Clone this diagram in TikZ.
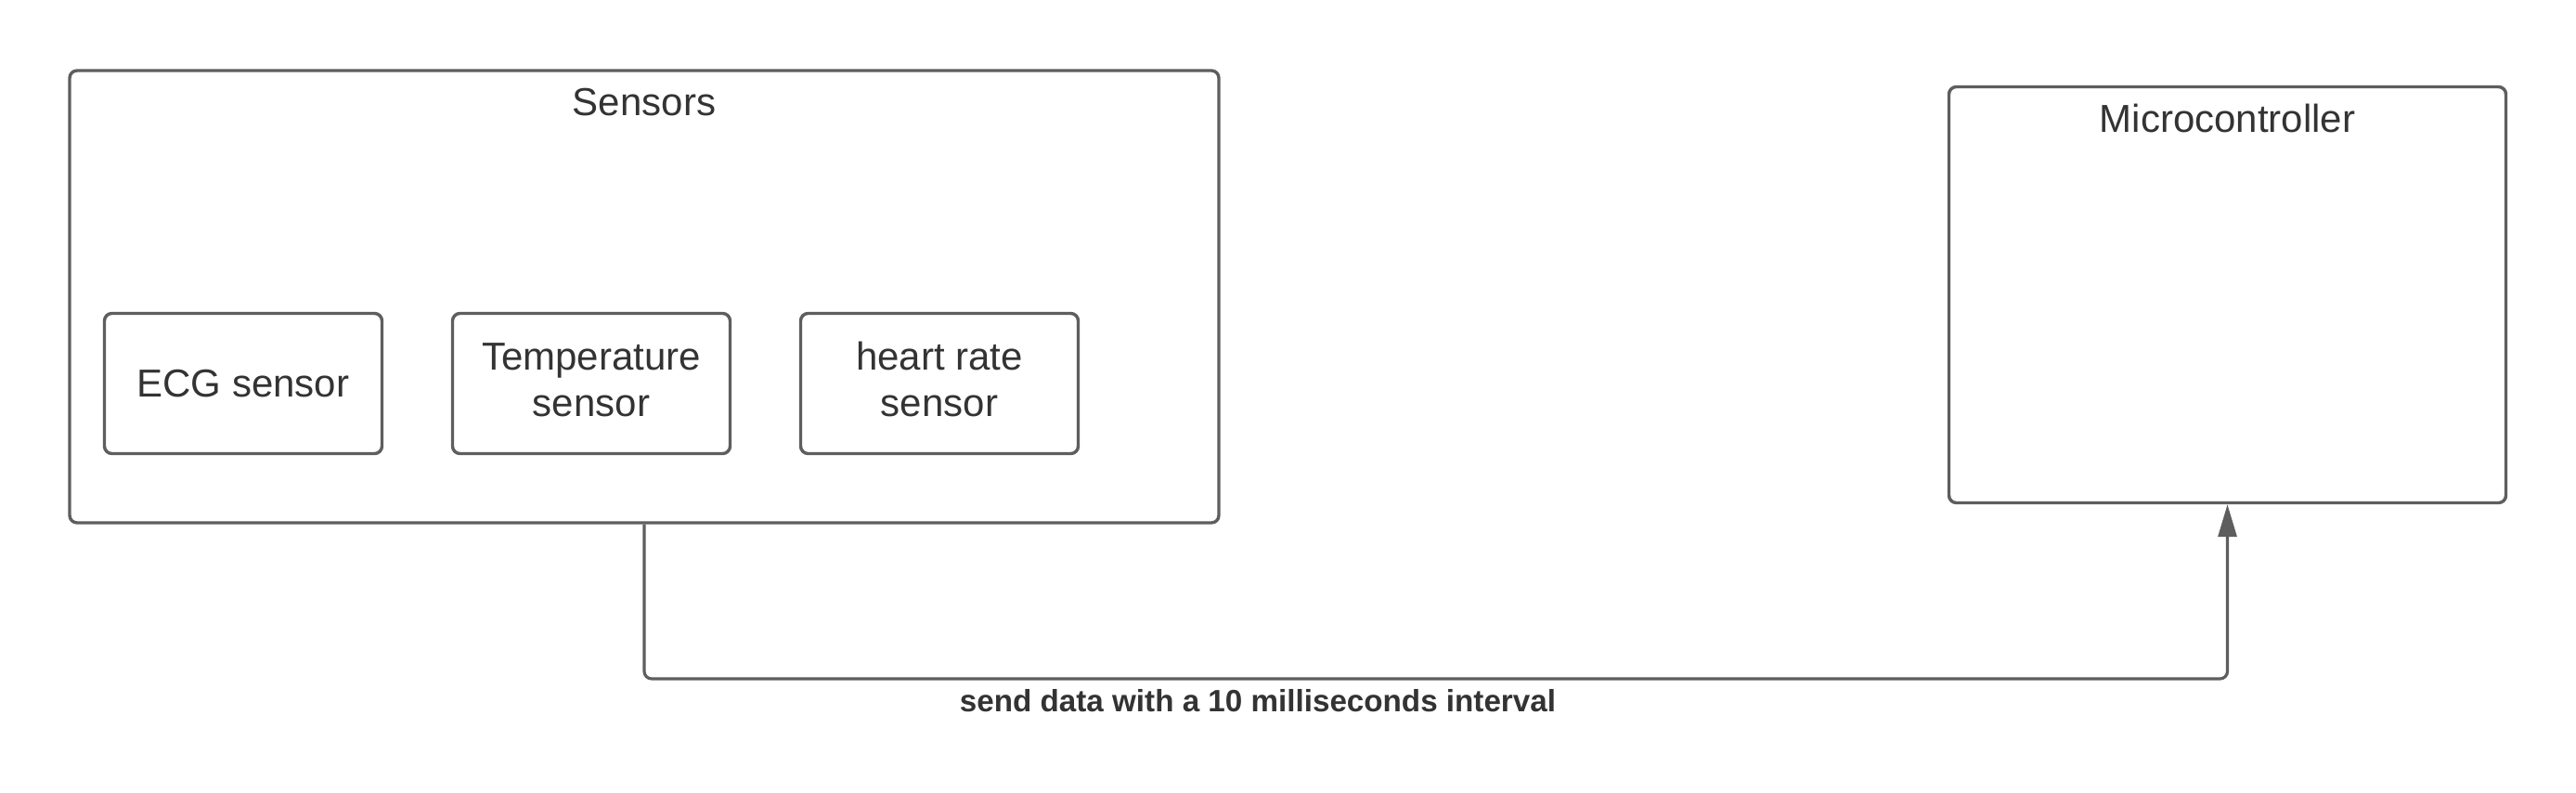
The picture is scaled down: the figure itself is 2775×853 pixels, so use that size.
\documentclass[tikz,border=0pt]{standalone}
\usepackage{fontspec}
\setmainfont{Liberation Sans}
\usetikzlibrary{arrows.meta}
\definecolor{linegray}{HTML}{5E5E5E}
\definecolor{textgray}{HTML}{333333}
\newcommand{\twolines}[2]{\raisebox{3.5pt}{\begin{tabular}{@{}c@{}}#1\\#2\end{tabular}}}
\begin{document}
\begin{tikzpicture}[x=0.5pt,y=-0.5pt,
  box/.style={draw=linegray,line width=1.7pt,rounded corners=4pt,inner sep=0pt,align=center,text=textgray,
    font=\fontsize{21pt}{25pt}\selectfont},
  title/.style={text=textgray,inner sep=0pt,font=\fontsize{21pt}{25pt}\selectfont},
  conn/.style={draw=linegray,line width=1.6pt,rounded corners=4pt},
  lbl/.style={text=textgray,inner sep=0pt,font=\fontsize{16.6pt}{20pt}\selectfont\bfseries}]
\useasboundingbox (0,0) rectangle (2775,853);
\fill[white] (0,0) rectangle (2775,853);
\node[box,minimum width=619pt,minimum height=243.5pt] (sens) at (694,319.5) {};
\node[title] (senst) at (694,110) {Sensors};
\node[box,minimum width=149.5pt,minimum height=75.5pt] (ecg) at (262,413) {ECG sensor};
\node[box,minimum width=149.5pt,minimum height=75.5pt] (temp) at (637,413) {\twolines{Temperature}{sensor}};
\node[box,minimum width=149.5pt,minimum height=75.5pt] (heart) at (1012,413) {\twolines{heart rate}{sensor}};
\node[box,minimum width=300pt,minimum height=224pt] (micro) at (2399.5,317.5) {};
\node[title] (microt) at (2399.5,127) {Microcontroller};
\coordinate (bend) at (694,731);
\draw[conn,-{Triangle[length=17.5pt,width=10pt]}] (sens.south) -- (bend) -| (micro.south);
\node[lbl] (label) at (1355,755) {send data with a 10 milliseconds interval};
\end{tikzpicture}
\end{document}
